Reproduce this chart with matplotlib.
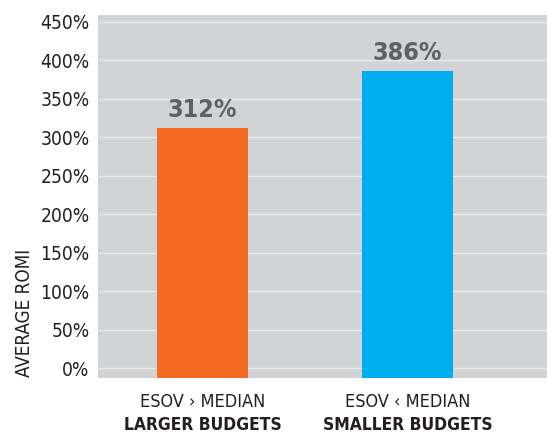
import matplotlib
matplotlib.use("Agg")
import matplotlib.pyplot as plt
from matplotlib import font_manager as fm

categories = ["ESOV › MEDIAN", "ESOV ‹ MEDIAN"]
groups = ["LARGER BUDGETS", "SMALLER BUDGETS"]
values = [312, 386]
value_labels = ["312%", "386%"]
colors = ["#f36c21", "#00aeef"]
yticks = [0, 50, 100, 150, 200, 250, 300, 350, 400, 450]
ytick_labels = [f"{t}%" for t in yticks]

names = {f.name for f in fm.fontManager.ttflist}
fam = "DejaVu Sans Condensed" if "DejaVu Sans Condensed" in names else "DejaVu Sans"
plt.rcParams["font.family"] = [fam]
plt.rcParams["font.stretch"] = "condensed"

fig = plt.figure(figsize=(5.47, 4.38), dpi=100)
ax = fig.add_axes([98/547, (438-378)/438, 449/547, 363/438])
ax.set_facecolor("#d1d3d4")
ylo, yhi = -12.5, 458.5
ax.set_ylim(ylo, yhi)
ax.set_xlim(-0.51, 1.68)

ax.set_yticks(yticks)
ax.set_yticklabels(ytick_labels, fontsize=13.8, color="#231f20")
ax.yaxis.grid(True, color="#e8e9ea", linewidth=1.0)
ax.set_axisbelow(True)
ax.tick_params(axis="y", length=0, pad=6)
ax.tick_params(axis="x", length=0)
ax.set_xticks([])
for s in ax.spines.values():
    s.set_visible(False)

x = list(range(len(values)))
ax.bar(x, [v - ylo for v in values], bottom=ylo, width=0.444, color=colors, zorder=3)

for xi, v, lab in zip(x, values, value_labels):
    ax.annotate(lab, (xi, v), xytext=(0, 4), textcoords="offset points",
                ha="center", va="bottom", fontsize=18, fontweight="bold",
                color="#5d6066")

tr = ax.get_xaxis_transform()
for xi, c, g in zip(x, categories, groups):
    ax.annotate(c, (xi, 0), xycoords=tr, xytext=(0, -17), textcoords="offset points",
                ha="center", va="center", fontsize=13, color="#231f20")
    ax.annotate(g, (xi, 0), xycoords=tr, xytext=(0, -34), textcoords="offset points",
                ha="center", va="center", fontsize=12.5, fontweight="bold", color="#231f20")

fig.text(25/547, 1 - 313/438, "AVERAGE ROMI", rotation=90, ha="center", va="center",
         fontsize=13.5, color="#231f20")

fig.savefig("out.png", dpi=100)
